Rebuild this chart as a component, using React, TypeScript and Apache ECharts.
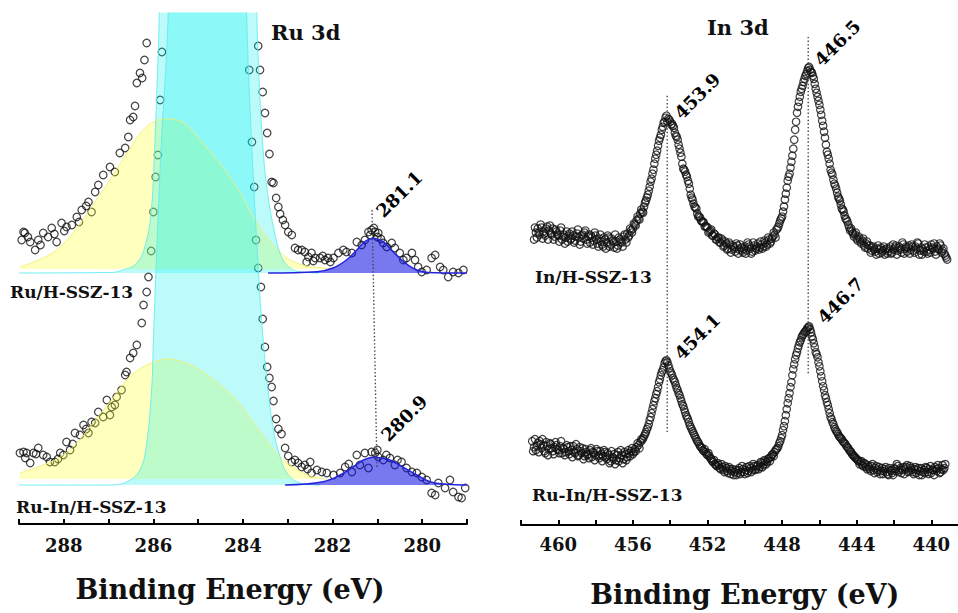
import { useEffect, useRef } from "react";
import * as echarts from "echarts";

// ---------- Ru 3d panel (binding energy eV, intensity a.u.) ----------
const ruAxisRange = { min: 279, max: 289 };

// Ru/H-SSZ-13 measured points [eV, counts]
const ruTopPoints: number[][] = [
  [288.94, 284], [288.9, 292], [288.87, 291], [288.8, 287], [288.75, 282], [288.64, 274], [288.57, 284], [288.52, 279],
  [288.46, 291], [288.35, 287], [288.27, 296], [288.21, 290], [288.16, 282], [288.05, 301], [287.99, 293], [287.94, 297],
  [287.82, 299], [287.71, 307], [287.66, 302], [287.6, 314], [287.5, 318], [287.45, 322], [287.38, 312], [287.3, 332],
  [287.23, 339], [287.12, 349], [286.97, 357], [286.86, 352], [286.75, 371], [286.63, 376], [286.56, 387], [286.52, 404],
  [286.45, 407], [286.41, 418], [286.37, 441], [286.3, 451], [286.25, 446], [286.2, 464], [286.15, 481],
  [283.66, 478], [283.62, 454], [283.56, 432], [283.51, 411], [283.46, 391], [283.41, 370], [283.36, 342], [283.32, 341],
  [283.26, 326], [283.21, 317], [283.17, 310], [283.11, 304], [283.06, 299], [282.99, 292], [282.91, 289], [282.84, 276],
  [282.77, 274], [282.69, 274], [282.62, 272], [282.58, 262], [282.54, 267], [282.47, 271], [282.43, 263], [282.39, 266],
  [282.28, 266], [282.22, 268], [282.17, 264], [282.1, 266], [282.05, 262], [281.98, 266], [281.87, 271], [281.76, 274],
  [281.69, 272], [281.57, 271], [281.46, 282], [281.35, 279], [281.28, 284], [281.2, 292], [281.16, 289], [281.13, 294],
  [281.08, 296], [281.05, 292], [281.0, 287], [280.98, 291], [280.92, 285], [280.87, 281], [280.79, 277], [280.68, 281],
  [280.61, 276], [280.5, 271], [280.42, 264], [280.35, 266], [280.23, 271], [280.16, 264], [280.09, 257], [280.01, 252],
  [279.9, 254], [279.79, 266], [279.71, 269], [279.6, 257], [279.53, 254], [279.42, 247], [279.31, 252], [279.19, 251],
  [279.08, 254],
];

// Ru-In/H-SSZ-13 measured points [eV, counts]
const ruBottomPoints: number[][] = [
  [288.98, 71], [288.9, 72], [288.86, 66], [288.83, 71], [288.75, 61], [288.68, 71], [288.62, 70], [288.57, 76],
  [288.46, 69], [288.38, 67], [288.31, 62], [288.2, 62], [288.13, 65], [288.08, 71], [288.01, 69], [287.94, 82],
  [287.86, 74], [287.8, 80], [287.75, 91], [287.64, 89], [287.56, 99], [287.5, 95], [287.45, 91], [287.38, 102],
  [287.3, 101], [287.23, 112], [287.12, 107], [287.04, 124], [286.97, 109], [286.93, 117], [286.86, 119], [286.82, 127],
  [286.71, 134], [286.63, 149], [286.6, 152], [286.52, 166], [286.45, 171], [286.37, 179], [286.26, 201], [286.22, 219],
  [286.15, 232], [286.11, 247], [286.05, 273], [286.0, 312], [285.95, 347], [285.9, 369], [285.85, 424], [285.81, 472],
  [283.86, 454], [283.8, 382], [283.75, 337], [283.71, 284], [283.66, 256], [283.6, 237], [283.56, 205], [283.51, 177],
  [283.46, 157], [283.41, 146], [283.36, 137], [283.32, 123], [283.26, 105], [283.21, 95], [283.14, 90], [283.06, 76],
  [282.99, 68], [282.91, 62], [282.84, 64], [282.77, 61], [282.69, 57], [282.62, 59], [282.56, 55], [282.5, 62],
  [282.47, 51], [282.35, 54], [282.24, 52], [282.13, 51], [281.98, 49], [281.83, 51], [281.72, 57], [281.64, 60],
  [281.57, 52], [281.46, 69], [281.39, 59], [281.28, 71], [281.2, 56], [281.13, 72], [281.05, 71], [281.0, 74],
  [280.98, 67], [280.87, 64], [280.8, 69], [280.72, 66], [280.61, 59], [280.55, 64], [280.46, 62], [280.35, 56],
  [280.23, 52], [280.12, 51], [280.01, 47], [279.9, 44], [279.79, 31], [279.71, 29], [279.64, 41], [279.49, 36],
  [279.38, 44], [279.31, 32], [279.19, 27], [279.12, 26], [279.04, 36],
];

// fitted components [eV, counts] (peaks beyond the frame are estimated)
const ruTopYellow: number[][] = [
  [288.98, 257], [288.46, 266], [288.08, 277], [287.71, 296], [287.35, 319], [286.97, 344], [286.59, 371], [286.23, 394],
  [285.95, 403], [285.74, 405], [285.41, 403], [284.96, 384], [284.22, 342], [283.69, 301], [283.33, 279], [283.17, 272],
  [282.95, 264], [282.57, 258], [282.21, 256], [282.0, 255],
];
const ruBottomYellow: number[][] = [
  [288.98, 51], [288.46, 59], [288.08, 67], [287.71, 81], [287.35, 101], [286.97, 122], [286.6, 144], [286.23, 157],
  [285.85, 164], [285.65, 165], [285.41, 163], [284.96, 154], [284.22, 127], [283.69, 97], [283.25, 71], [282.88, 57],
  [282.5, 48], [282.13, 45],
];
const ruTopCyan: number[][] = [
  [289.0, 251], [286.97, 251.5], [286.75, 253], [286.37, 261], [286.15, 284], [286.04, 317], [285.99, 357], [285.93, 424],
  [285.87, 511], [285.6, 1500], [284.8, 3000], [284.0, 1500], [283.69, 511], [283.62, 424], [283.55, 374], [283.47, 337],
  [283.32, 297], [283.14, 267], [282.95, 256], [282.73, 252.3], [282.3, 251],
];
const ruBottomCyan: number[][] = [
  [289.0, 39], [286.97, 39], [286.6, 42], [286.3, 54], [286.15, 81], [286.04, 134], [286.0, 184], [285.96, 234],
  [285.83, 374], [285.67, 511], [285.3, 1200], [284.8, 1700], [284.3, 1200], [283.92, 511], [283.8, 374], [283.63, 234],
  [283.55, 184], [283.44, 134], [283.32, 94], [283.17, 67], [283.02, 51], [282.73, 41], [282.28, 39],
];
const ruTopBlue: number[][] = [
  [283.44, 251], [282.35, 252.3], [281.99, 256], [281.69, 264], [281.46, 274], [281.28, 282.3], [281.09, 285.7],
  [280.87, 282.3], [280.65, 272.3], [280.42, 262.3], [280.2, 255.7], [279.98, 252.3], [279.68, 251.3], [279.0, 251],
];
const ruBottomBlue: number[][] = [
  [283.06, 39], [282.21, 42.3], [281.83, 49], [281.54, 57.3], [281.31, 64], [281.09, 66.7], [280.94, 66.3], [280.72, 64],
  [280.42, 56.7], [280.12, 49], [279.83, 42.3], [279.45, 39.7], [279.0, 39],
];
const ruBaselines = { top: 251, bottom: 39, topYellow: 255, bottomYellow: 45 };
const ruPeakGuide: number[][] = [[281.12, 314], [281.01, 57]];
const ruPeakLabels = [
  { name: "281.1", at: [280.96, 310] },
  { name: "280.9", at: [280.85, 86] },
];

// ---------- In 3d panel ----------
const inAxisRange = { min: 438, max: 462 };
const inStep = 0.1;
// In/H-SSZ-13, channel A starting at 461.3 eV, 0.1 eV step
const inTopStartA = 461.3;
const inTopValuesA: number[] = [
  286, 293, 297, 291, 298, 294, 290, 299, 295, 292, // 461.3
  297, 289, 294, 290, 295, 286, 291, 288, 284, 292, // 460.3
  287, 290, 285, 292, 288, 284, 291, 293, 286, 289, // 459.3
  283, 288, 285, 290, 282, 287, 284, 279, 286, 283, // 458.3
  288, 281, 285, 278, 284, 280, 286, 283, 289, 286, // 457.3
  292, 290, 295, 297, 301, 305, 307, 312, 314, 319, // 456.3
  325, 331, 339, 347, 356, 367, 375, 385, 391, 399, // 455.3
  404, 410, 407, 404, 402, 398, 390, 386, 377, 369, // 454.3
  357, 354, 349, 342, 331, 326, 319, 317, 309, 308, // 453.3
  304, 303, 299, 298, 294, 296, 290, 291, 286, 288, // 452.3
  283, 285, 280, 282, 277, 281, 276, 279, 274, 280, // 451.3
  276, 278, 273, 279, 275, 281, 277, 274, 280, 277, // 450.3
  282, 278, 281, 279, 283, 281, 286, 284, 289, 291, // 449.3
  296, 299, 305, 309, 319, 332, 345, 352, 364, 377, // 448.3
  396, 413, 424, 434, 440, 447, 452, 458, 456, 453, // 447.3
  447, 437, 429, 421, 411, 400, 388, 374, 367, 356, // 446.3
  351, 342, 337, 329, 325, 317, 314, 307, 304, 298, // 445.3
  297, 292, 291, 287, 289, 284, 285, 280, 282, 277, // 444.3
  280, 275, 279, 274, 277, 272, 278, 275, 271, 277, // 443.3
  274, 279, 273, 276, 280, 275, 278, 273, 281, 277, // 442.3
  274, 280, 276, 279, 273, 277, 282, 275, 271, 274, // 441.3
  278, 272, 276, 281, 277, 274, 279, 276, 280, 275, // 440.3
  272, 268, // 439.3
];
// In/H-SSZ-13, channel B starting at 461.25 eV, 0.1 eV step
const inTopStartB = 461.25;
const inTopValuesB: number[] = [
  298, 288, 293, 301, 287, 292, 297, 286, 300, 291, // 461.25
  286, 296, 291, 284, 298, 289, 282, 294, 290, 286, // 460.25
  294, 283, 289, 296, 281, 290, 287, 295, 282, 291, // 459.25
  290, 281, 293, 286, 279, 291, 281, 288, 277, 290, // 458.25
  279, 287, 283, 291, 277, 288, 284, 279, 291, 283, // 457.25
  288, 297, 293, 302, 300, 309, 306, 316, 313, 323, // 456.25
  328, 335, 344, 352, 362, 371, 380, 388, 396, 403, // 455.25
  408, 404, 406, 401, 400, 393, 389, 381, 373, 362, // 454.25
  356, 351, 345, 337, 328, 322, 318, 312, 309, 305, // 453.25
  304, 299, 299, 293, 295, 290, 292, 286, 288, 283, // 452.25
  287, 279, 284, 276, 283, 273, 280, 277, 282, 272, // 451.25
  281, 275, 277, 272, 283, 279, 272, 283, 275, 279, // 450.25
  276, 284, 277, 285, 279, 288, 282, 287, 293, 288, // 449.25
  297, 302, 307, 314, 326, 338, 349, 358, 370, 386, // 448.25
  404, 419, 429, 437, 444, 450, 455, 459, 454, 450, // 447.25
  442, 433, 425, 416, 405, 394, 381, 371, 362, 353, // 446.25
  346, 340, 333, 327, 321, 316, 310, 306, 301, 295, // 445.25
  294, 289, 293, 285, 287, 282, 287, 278, 284, 280, // 444.25
  273, 278, 276, 271, 280, 276, 273, 279, 276, 272, // 443.25
  277, 272, 281, 278, 271, 279, 276, 283, 272, 279, // 442.25
  278, 272, 281, 275, 279, 283, 271, 278, 276, 281, // 441.25
  274, 279, 273, 278, 282, 271, 277, 282, 273, 277, // 440.25
  270, 266, // 439.25
];
// Ru-In/H-SSZ-13, channel A starting at 461.4 eV, 0.1 eV step
const inBottomStartA = 461.4;
const inBottomValuesA: number[] = [
  84, 78, 75, 82, 84, 77, 80, 72, 79, 76, // 461.4
  81, 74, 78, 80, 75, 79, 72, 76, 73, 78, // 460.4
  71, 75, 79, 72, 76, 70, 74, 77, 69, 73, // 459.4
  71, 75, 68, 72, 70, 74, 67, 71, 69, 73, // 458.4
  66, 70, 64, 68, 71, 65, 73, 67, 70, 66, // 457.4
  71, 68, 72, 74, 71, 76, 78, 80, 83, 85, // 456.4
  89, 93, 98, 105, 112, 120, 127, 134, 143, 150, // 455.4
  155, 162, 165, 160, 154, 150, 145, 140, 135, 130, // 454.4
  124, 119, 113, 108, 103, 98, 94, 90, 86, 83, // 453.4
  79, 77, 74, 73, 70, 69, 66, 63, 61, 59, // 452.4
  60, 56, 58, 53, 57, 52, 56, 54, 50, 55, // 451.4
  52, 57, 53, 56, 51, 58, 54, 57, 55, 59, // 450.4
  56, 60, 58, 62, 60, 64, 63, 67, 68, 71, // 449.4
  73, 76, 79, 84, 90, 99, 110, 122, 132, 143, // 448.4
  156, 166, 173, 180, 185, 190, 193, 195, 198, 196, // 447.4
  189, 182, 173, 168, 159, 149, 139, 130, 123, 116, // 446.4
  108, 103, 98, 94, 91, 88, 86, 83, 81, 78, // 445.4
  75, 73, 70, 68, 66, 64, 63, 60, 62, 58, // 444.4
  60, 56, 59, 55, 57, 53, 58, 54, 51, 56, // 443.4
  53, 50, 55, 52, 57, 54, 59, 55, 52, 58, // 442.4
  56, 60, 54, 57, 53, 56, 52, 57, 54, 50, // 441.4
  55, 58, 53, 56, 52, 55, 58, 54, 57, 53, // 440.4
  60, 57, // 439.4
];
// Ru-In/H-SSZ-13, channel B starting at 461.35 eV, 0.1 eV step
const inBottomStartB = 461.35;
const inBottomValuesB: number[] = [
  74, 86, 79, 73, 81, 86, 74, 83, 70, 82, // 461.35
  77, 71, 83, 76, 72, 84, 77, 70, 80, 74, // 460.35
  79, 68, 73, 81, 69, 78, 72, 66, 76, 70, // 459.35
  67, 77, 73, 65, 76, 69, 74, 64, 75, 68, // 458.35
  72, 62, 74, 66, 61, 70, 64, 75, 62, 73, // 457.35
  65, 75, 69, 77, 73, 74, 82, 77, 86, 87, // 456.35
  91, 96, 101, 108, 116, 124, 131, 138, 146, 153, // 455.35
  158, 164, 163, 157, 152, 147, 143, 137, 132, 127, // 454.35
  121, 116, 110, 106, 100, 96, 92, 88, 84, 81, // 453.35
  78, 75, 76, 71, 72, 67, 64, 65, 60, 62, // 452.35
  57, 61, 55, 59, 54, 58, 51, 56, 53, 50, // 451.35
  55, 51, 59, 53, 55, 52, 59, 53, 61, 55, // 450.35
  59, 56, 63, 58, 65, 61, 66, 64, 70, 69, // 449.35
  75, 77, 82, 87, 95, 104, 116, 127, 138, 150, // 448.35
  161, 170, 177, 183, 188, 191, 194, 197, 199, 193, // 447.35
  186, 178, 171, 163, 154, 144, 135, 127, 120, 112, // 446.35
  106, 101, 96, 93, 89, 87, 84, 82, 79, 77, // 445.35
  74, 71, 69, 67, 65, 61, 64, 59, 61, 56, // 444.35
  58, 54, 61, 52, 59, 55, 51, 57, 54, 58, // 443.35
  51, 57, 54, 50, 56, 61, 53, 57, 55, 51, // 442.35
  58, 53, 59, 55, 51, 58, 55, 50, 57, 53, // 441.35
  52, 57, 51, 59, 55, 50, 56, 60, 52, 56, // 440.35
  55, 61, // 439.35
];
const inPeakGuides: number[][][] = [
  [[454.16, 430], [454.16, 91]],
  [[446.6, 489], [446.6, 151]],
];
const inPeakLabels = [
  { name: "453.9", at: [453.62, 410] },
  { name: "446.5", at: [446.11, 463] },
  { name: "454.1", at: [453.62, 169] },
  { name: "446.7", at: [445.95, 205] },
];

const AXIS_TITLE = "Binding Energy (eV)";
const FONT = '"DejaVu Serif", serif';

function energyGrid(start: number, step: number, values: number[]) {
  return values.map((v, i) => [Math.round((start - i * step) * 1000) / 1000, v]);
}

export default function App() {
  const ref = useRef<HTMLDivElement>(null);

  useEffect(() => {
    if (!ref.current) return;
    const chart = echarts.init(ref.current, null, { renderer: "svg" });

    const xBase = {
      type: "value",
      inverse: true,
      splitLine: { show: false },
      axisLine: { show: true, onZero: false, lineStyle: { color: "#000", width: 2 } },
      axisTick: { show: true, inside: true, length: 5, lineStyle: { color: "#000", width: 2 } },
      nameLocation: "middle",
      name: AXIS_TITLE,
    };
    const nameStyle = { color: "#111", fontFamily: FONT, fontWeight: "bold", fontSize: 27 };
    const labelBase = { color: "#111", fontFamily: FONT, fontWeight: "bold", fontSize: 18 };

    const scatter = (data: number[][], axis: number) => ({
      type: "scatter",
      xAxisIndex: axis,
      yAxisIndex: axis,
      data,
      symbol: "circle",
      symbolSize: 7.5,
      clip: true,
      silent: true,
      z: 2,
      itemStyle: { color: "rgba(0,0,0,0)", borderColor: "#111", borderWidth: 1.2 },
    });
    const area = (data: number[][], origin: number, fill: string, stroke: string, z: number, w = 1) => ({
      type: "line",
      xAxisIndex: 0,
      yAxisIndex: 0,
      data,
      smooth: 0.4,
      symbol: "none",
      clip: true,
      silent: true,
      z,
      lineStyle: { color: stroke, width: w },
      areaStyle: { color: fill, origin, opacity: 1 },
    });
    const guide = (data: number[][], axis: number) => ({
      type: "line",
      xAxisIndex: axis,
      yAxisIndex: axis,
      data,
      symbol: "none",
      silent: true,
      z: 5,
      lineStyle: { color: "#444", width: 1.4, type: [1.4, 2.2] },
    });

    const text = (t: string, x: number, y: number, size: number) => ({
      type: "text",
      x,
      y,
      silent: true,
      style: { text: t, fill: "#111", font: `bold ${size}px ${FONT}`, verticalAlign: "middle" },
    });

    const yellowFill = "rgba(255,255,40,0.3)";
    const yellowLine = "rgba(240,240,120,0.9)";
    const cyanFill = "rgba(0,238,238,0.26)";
    const cyanLine = "rgba(100,236,240,0.9)";
    const blueFill = "rgba(10,10,225,0.55)";

    chart.setOption({
      animation: false,
      backgroundColor: "#fff",
      grid: [
        { left: 19, top: 13, width: 448, height: 511 },
        { left: 521, top: 13, width: 447.6, height: 513 },
      ],
      xAxis: [
        {
          ...xBase,
          gridIndex: 0,
          min: ruAxisRange.min,
          max: ruAxisRange.max,
          interval: 1,
          nameGap: 52,
          nameTextStyle: { ...nameStyle, padding: [0, 26, 0, 0] },
          axisLabel: {
            ...labelBase,
            margin: 12,
            formatter: (v: number) => (Math.round(v) % 2 === 0 ? String(v) : ""),
          },
        },
        {
          ...xBase,
          gridIndex: 1,
          min: inAxisRange.min,
          max: inAxisRange.max,
          interval: 2,
          nameGap: 56,
          nameTextStyle: nameStyle,
          axisLabel: {
            ...labelBase,
            margin: 10,
            formatter: (v: number) => (Math.round(v) % 4 === 0 ? String(v) : ""),
          },
        },
      ],
      yAxis: [
        { type: "value", gridIndex: 0, min: 0, max: 511, show: false },
        { type: "value", gridIndex: 1, min: 0, max: 513, show: false },
      ],
      series: [
        scatter(ruTopPoints, 0),
        scatter(ruBottomPoints, 0),
        area(ruTopYellow, ruBaselines.topYellow, yellowFill, yellowLine, 3),
        area(ruBottomYellow, ruBaselines.bottomYellow, yellowFill, yellowLine, 3),
        area(ruTopCyan, ruBaselines.top, cyanFill, cyanLine, 3),
        area(ruBottomCyan, ruBaselines.bottom, cyanFill, cyanLine, 3),
        area(ruTopBlue, ruBaselines.top, blueFill, "#2424dd", 4, 1.5),
        area(ruBottomBlue, ruBaselines.bottom, blueFill, "#2424dd", 4, 1.5),
        guide(ruPeakGuide, 0),
        scatter(energyGrid(inTopStartA, inStep, inTopValuesA), 1),
        scatter(energyGrid(inTopStartB, inStep, inTopValuesB), 1),
        scatter(energyGrid(inBottomStartA, inStep, inBottomValuesA), 1),
        scatter(energyGrid(inBottomStartB, inStep, inBottomValuesB), 1),
        guide(inPeakGuides[0], 1),
        guide(inPeakGuides[1], 1),
      ],
    });

    // rotated peak-position labels anchored in data coordinates
    const peakText = (p: { name: string; at: number[] }, grid: number) => {
      const [px, py] = chart.convertToPixel({ gridIndex: grid }, p.at) as number[];
      return {
        type: "text",
        x: px,
        y: py,
        rotation: Math.PI / 4,
        silent: true,
        z: 10,
        style: { text: p.name, fill: "#000", font: `bold 18px ${FONT}`, align: "left", verticalAlign: "middle" },
      };
    };
    chart.setOption({
      graphic: [
        text("Ru 3d", 271, 32, 21),
        text("In 3d", 707, 27, 21),
        text("Ru/H-SSZ-13", 10, 292, 17),
        text("Ru-In/H-SSZ-13", 16, 507, 17),
        text("In/H-SSZ-13", 535, 277, 17),
        text("Ru-In/H-SSZ-13", 532, 495, 17),
        ...ruPeakLabels.map((p) => peakText(p, 0)),
        ...inPeakLabels.map((p) => peakText(p, 1)),
      ],
    });

    return () => chart.dispose();
  }, []);

  return (
    <div
      style={{ position: "fixed", left: 0, top: 0, width: 958, height: 613, overflow: "hidden", background: "#fff" }}
    >
      <div ref={ref} style={{ width: 972, height: 613 }} />
    </div>
  );
}
